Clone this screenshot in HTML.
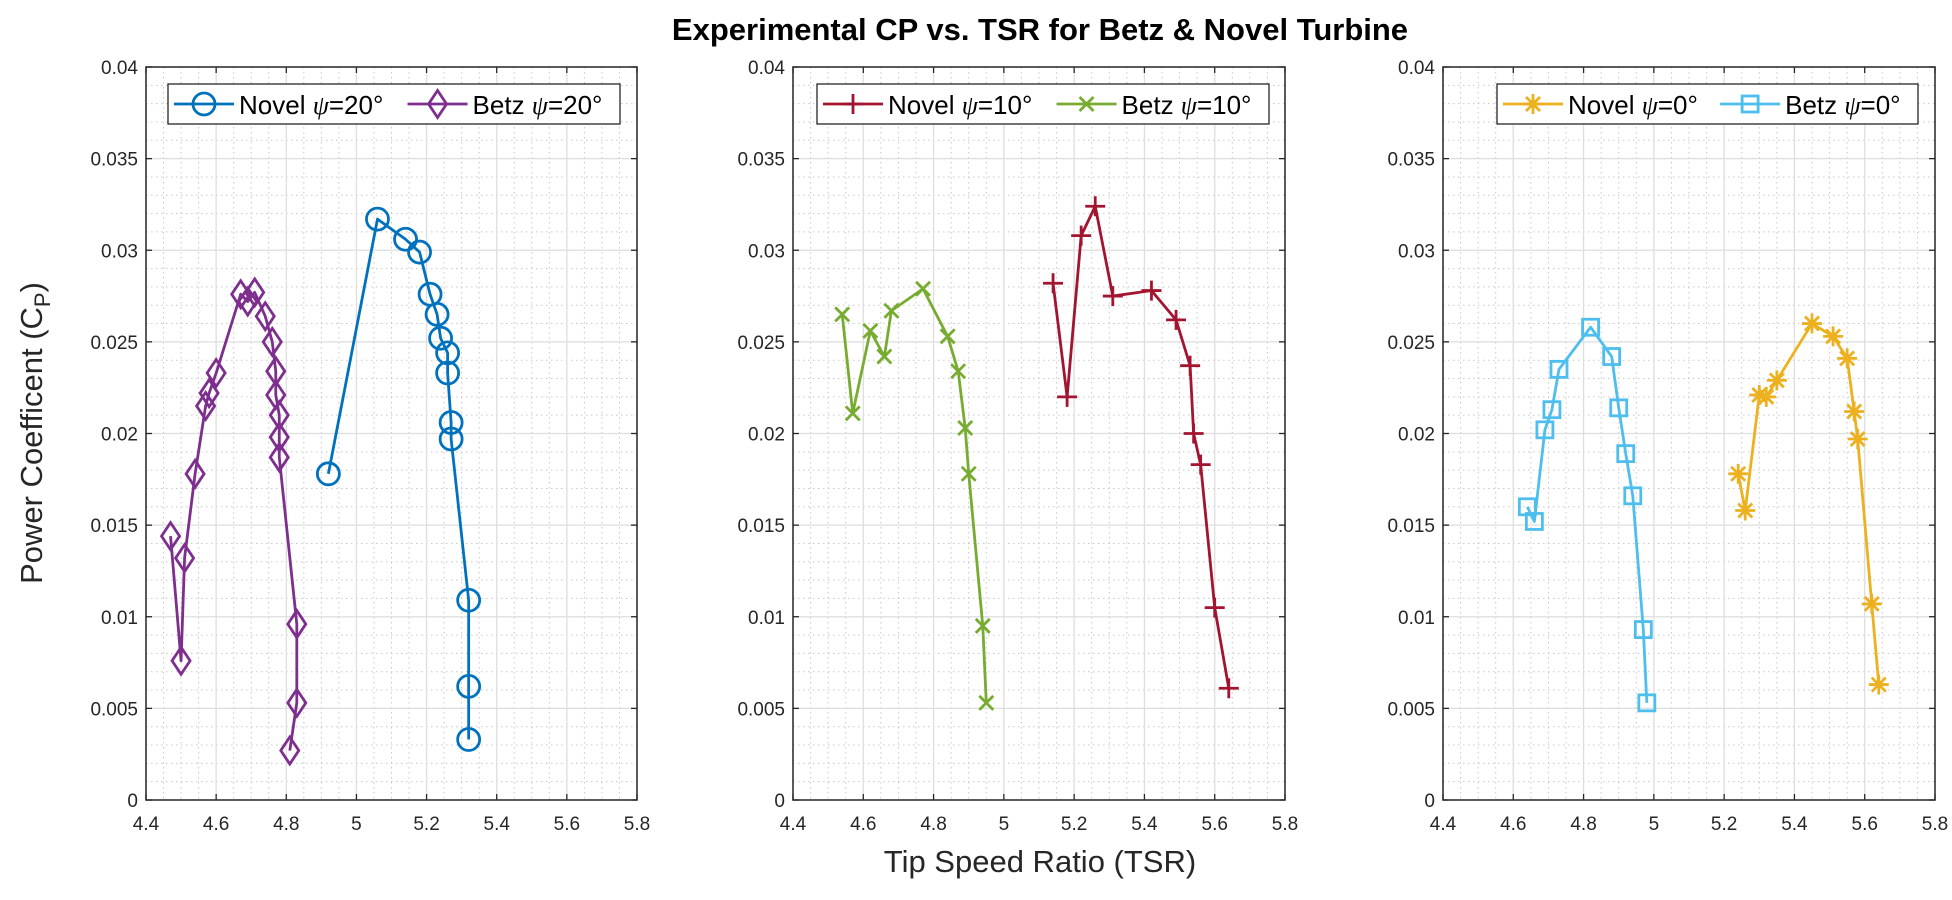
<!DOCTYPE html>
<html><head><meta charset="utf-8"><style>
body{margin:0;background:#fff;}
svg{display:block;font-family:"Liberation Sans",Arial,sans-serif;}
</style></head><body>
<svg id="fig" width="1952" height="900" viewBox="0 0 1952 900" xmlns="http://www.w3.org/2000/svg">
<rect width="1952" height="900" fill="#fff"/>
<text x="1040" y="40" text-anchor="middle" font-size="31" font-weight="bold">Experimental CP vs. TSR for Betz &amp; Novel Turbine</text>
<text transform="translate(42,433) rotate(-90)" text-anchor="middle" font-size="31" fill="#262626">Power Coefficent (C<tspan font-size="22" dy="8">P</tspan><tspan dy="-8">)</tspan></text>
<text x="1040" y="872" text-anchor="middle" font-size="31" fill="#262626">Tip Speed Ratio (TSR)</text>
</svg>
<script>
const xTicks=[4.4,4.6,4.8,5,5.2,5.4,5.6,5.8];
const yTicks=[0,0.005,0.01,0.015,0.02,0.025,0.03,0.035,0.04];
const yTickLabels=["0","0.005","0.01","0.015","0.02","0.025","0.03","0.035","0.04"];

const novel20X=[4.92,5.06,5.14,5.18,5.21,5.23,5.24,5.26,5.26,5.27,5.27,5.32,5.32,5.32];
const novel20Y=[0.0178,0.0317,0.0306,0.0299,0.0276,0.0265,0.0252,0.0244,0.0233,0.0206,0.0197,0.0109,0.0062,0.0033];
const betz20X=[4.47,4.50,4.51,4.54,4.57,4.58,4.60,4.67,4.69,4.71,4.74,4.76,4.77,4.77,4.78,4.78,4.78,4.83,4.83,4.81];
const betz20Y=[0.0144,0.0076,0.0132,0.0178,0.0215,0.0222,0.0233,0.0276,0.0272,0.0277,0.0264,0.0250,0.0234,0.0221,0.0210,0.0198,0.0187,0.0096,0.0053,0.0027];
const novel10X=[5.14,5.18,5.22,5.26,5.31,5.42,5.49,5.53,5.54,5.56,5.60,5.64];
const novel10Y=[0.0282,0.0220,0.0308,0.0324,0.0275,0.0278,0.0262,0.0237,0.0200,0.0183,0.0105,0.0061];
const betz10X=[4.54,4.57,4.62,4.66,4.68,4.77,4.84,4.87,4.89,4.90,4.94,4.95];
const betz10Y=[0.0265,0.0211,0.0256,0.0242,0.0267,0.0279,0.0253,0.0234,0.0203,0.0178,0.0095,0.0053];
const novel0X=[5.24,5.26,5.30,5.32,5.35,5.45,5.51,5.55,5.57,5.58,5.62,5.64];
const novel0Y=[0.0178,0.0158,0.0221,0.0220,0.0229,0.0260,0.0253,0.0241,0.0212,0.0197,0.0107,0.0063];
const betz0X=[4.64,4.66,4.69,4.71,4.73,4.82,4.88,4.90,4.92,4.94,4.97,4.98];
const betz0Y=[0.0160,0.0152,0.0202,0.0213,0.0235,0.0258,0.0242,0.0214,0.0189,0.0166,0.0093,0.0053];

const NS="http://www.w3.org/2000/svg";
const svg=document.getElementById('fig');
function mk(tag,attrs,parent){const e=document.createElementNS(NS,tag);for(const k in attrs)e.setAttribute(k,attrs[k]);(parent||svg).appendChild(e);return e;}

const panels=[
 {x0:146,x1:637,legend:[168,620],series:[
   {name:"novel-psi-20",label:"Novel",ang:"20",xs:novel20X,ys:novel20Y,c:"#0072BD",m:"circle"},
   {name:"betz-psi-20",label:"Betz",ang:"20",xs:betz20X,ys:betz20Y,c:"#7E2F8E",m:"diamond"}]},
 {x0:793,x1:1285,legend:[817,1269],series:[
   {name:"novel-psi-10",label:"Novel",ang:"10",xs:novel10X,ys:novel10Y,c:"#A2142F",m:"plus"},
   {name:"betz-psi-10",label:"Betz",ang:"10",xs:betz10X,ys:betz10Y,c:"#77AC30",m:"x"}]},
 {x0:1443,x1:1935,legend:[1497,1918],series:[
   {name:"novel-psi-0",label:"Novel",ang:"0",xs:novel0X,ys:novel0Y,c:"#EDB120",m:"star"},
   {name:"betz-psi-0",label:"Betz",ang:"0",xs:betz0X,ys:betz0Y,c:"#4DBEEE",m:"square"}]}
];
const Y0=800,Y1=67;
function sy(v){return Y0-(v-0)/(0.04-0)*(Y0-Y1);}

function marker(g,type,x,y,c,r){
  const st={stroke:c,'stroke-width':2.8,fill:'none'};
  let e;
  if(type==="circle")e=mk('circle',Object.assign({cx:x,cy:y,r:r},st),g);
  else if(type==="diamond")e=mk('path',Object.assign({d:`M${x},${y-r*1.35}L${x+r*0.9},${y}L${x},${y+r*1.35}L${x-r*0.9},${y}Z`},st),g);
  else if(type==="square")e=mk('rect',Object.assign({x:x-r*0.8,y:y-r*0.8,width:r*1.6,height:r*1.6},st),g);
  else if(type==="plus")e=mk('path',Object.assign({d:`M${x-r},${y}H${x+r}M${x},${y-r}V${y+r}`},st),g);
  else if(type==="x")e=mk('path',Object.assign({d:`M${x-r*0.7},${y-r*0.7}L${x+r*0.7},${y+r*0.7}M${x-r*0.7},${y+r*0.7}L${x+r*0.7},${y-r*0.7}`},st),g);
  else e=mk('path',Object.assign({d:`M${x-r},${y}H${x+r}M${x},${y-r}V${y+r}M${x-r*0.7},${y-r*0.7}L${x+r*0.7},${y+r*0.7}M${x-r*0.7},${y+r*0.7}L${x+r*0.7},${y-r*0.7}`},st),g);
  return e;
}

panels.forEach((p,pi)=>{
  const sx=v=>p.x0+(v-4.4)/(5.8-4.4)*(p.x1-p.x0);
  const ax=mk('g',{});
  
  
  for(let i=0;i<=28;i++){const v=4.4+i*0.05;if(i%4===0)continue;const x=sx(v);
    mk('line',{x1:x,x2:x,y1:Y1,y2:Y0,stroke:'#c8c8c8','stroke-width':1,'stroke-dasharray':'1.5,3.5'},ax);}
  for(let i=0;i<=40;i++){if(i%5===0)continue;const y=sy(i*0.001);
    mk('line',{x1:p.x0,x2:p.x1,y1:y,y2:y,stroke:'#c8c8c8','stroke-width':1,'stroke-dasharray':'1.5,3.5'},ax);}
  xTicks.forEach(v=>{const x=sx(v);
    mk('line',{x1:x,x2:x,y1:Y1,y2:Y0,stroke:'#dedede','stroke-width':1.3},ax);
    mk('line',{x1:x,x2:x,y1:Y0,y2:Y0-6,stroke:'#262626','stroke-width':1.3},ax);
    mk('line',{x1:x,x2:x,y1:Y1,y2:Y1+6,stroke:'#262626','stroke-width':1.3},ax);
    const t=mk('text',{x:x,y:Y0+30,'text-anchor':'middle','font-size':19,fill:'#262626'},ax);
    t.textContent=String(v);
    
    
  });
  yTicks.forEach((v,i)=>{const y=sy(v);
    mk('line',{x1:p.x0,x2:p.x1,y1:y,y2:y,stroke:'#dedede','stroke-width':1.3},ax);
    mk('line',{x1:p.x0,x2:p.x0+6,y1:y,y2:y,stroke:'#262626','stroke-width':1.3},ax);
    mk('line',{x1:p.x1,x2:p.x1-6,y1:y,y2:y,stroke:'#262626','stroke-width':1.3},ax);
    const t=mk('text',{x:p.x0-8,y:y+7,'text-anchor':'end','font-size':19,fill:'#262626'},ax);
    t.textContent=yTickLabels[i];
    
    
  });
  mk('rect',{x:p.x0,y:Y1,width:p.x1-p.x0,height:Y0-Y1,fill:'none',stroke:'#262626','stroke-width':1.5},ax);
  p.series.forEach(s=>{
    const g=mk('g',{});
    
    
    const pts=s.xs.map((v,i)=>sx(v)+','+sy(s.ys[i])).join(' ');
    mk('polyline',{points:pts,fill:'none',stroke:s.c,'stroke-width':2.8,'stroke-linejoin':'round'},g);
    s.xs.forEach((v,i)=>{
      const m=marker(g,s.m,sx(v),sy(s.ys[i]),s.c,s.m==="circle"?11:10);
      
      
    });
  });
  const lg=mk('g',{});
  
  
  const L0=p.legend[0],L1=p.legend[1];
  mk('rect',{x:L0,y:84,width:L1-L0,height:40,fill:'#fff',stroke:'#262626','stroke-width':1.3},lg);
  p.series.forEach((s,k)=>{
    const ex=k===0?L0+6:L0+0.53*(L1-L0);
    const eg=mk('g',{},lg);
    
    
    mk('line',{x1:ex,x2:ex+60,y1:104,y2:104,stroke:s.c,'stroke-width':2.8},eg);
    marker(eg,s.m,ex+30,104,s.c,s.m==="circle"?11:10);
    const t=mk('text',{x:ex+65,y:114,'font-size':26,fill:'#000'},eg);
    t.innerHTML=s.label+' <tspan font-family="Liberation Serif,serif" font-style="italic">ψ</tspan>='+s.ang+'°';
  });
});
</script>
</body></html>
